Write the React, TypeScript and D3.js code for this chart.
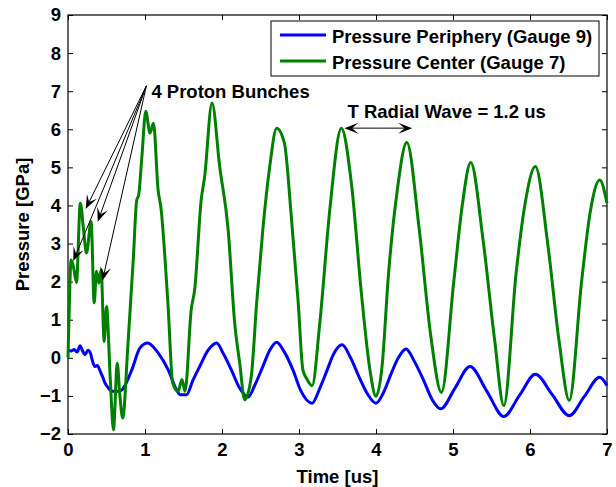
import React, { useEffect, useRef } from "react";
import * as d3 from "d3";

const WIDTH = 616;
const HEIGHT = 487;
const MARGIN = { top: 15, right: 9, bottom: 53, left: 68 };
const FONT = "'Liberation Sans', Arial, Helvetica, sans-serif";
const FONT_SIZE = 18.5;

const X_TICKS = [0, 1, 2, 3, 4, 5, 6, 7];
const Y_TICKS = [-2, -1, 0, 1, 2, 3, 4, 5, 6, 7, 8, 9];

const SERIES_NAMES = ["Pressure Periphery (Gauge 9)", "Pressure Center (Gauge 7)"];
const SERIES_COLORS = ["#0000ff", "#008000"];

// [time us, pressure GPa]
const peripheryData: [number, number][] = [
  [0, 0.21], [0.04, 0.18], [0.08, 0.22], [0.12, 0.15], [0.156, 0.32], [0.19, 0.18],
  [0.22, 0.08], [0.26, 0.2], [0.29, 0.13], [0.32, -0.1], [0.35, -0.23], [0.38, -0.2],
  [0.42, -0.36], [0.45, -0.5], [0.48, -0.66], [0.52, -0.78], [0.57, -0.88], [0.65, -0.88],
  [0.7, -0.84], [0.77, -0.6], [0.83, -0.31], [0.935, 0.26], [1.035, 0.39], [1.17, 0.13],
  [1.3, -0.31], [1.41, -0.84], [1.46, -0.97], [1.54, -0.97], [1.62, -0.6], [1.71, -0.23],
  [1.82, 0.2], [1.93, 0.39], [2.02, 0.1], [2.12, -0.31], [2.23, -0.8], [2.34, -1.03],
  [2.43, -0.7], [2.53, -0.23], [2.62, 0.2], [2.71, 0.41], [2.81, 0.15], [2.92, -0.31],
  [3.02, -0.85], [3.17, -1.19], [3.27, -0.8], [3.36, -0.35], [3.45, 0.1], [3.56, 0.34],
  [3.67, 0.0], [3.78, -0.5], [3.89, -0.95], [4.0, -1.19], [4.1, -0.9], [4.2, -0.4],
  [4.29, 0.0], [4.39, 0.23], [4.5, -0.1], [4.62, -0.6], [4.73, -1.1], [4.84, -1.34],
  [5.03, -0.78], [5.22, -0.23], [5.44, -0.88], [5.66, -1.54], [5.865, -0.98], [6.07, -0.43],
  [6.29, -0.97], [6.51, -1.52], [6.71, -1.0], [6.905, -0.51], [7.0, -0.73],
];

const centerData: [number, number][] = [
  [0, 0.0], [0.02, 1.6], [0.04, 2.57], [0.07, 2.4], [0.11, 1.98], [0.16, 4.06],
  [0.2, 3.4], [0.24, 2.75], [0.3, 3.58], [0.34, 1.44], [0.37, 2.27], [0.4, 1.96],
  [0.43, 2.31], [0.47, 0.43], [0.5, 1.35], [0.55, -0.6], [0.59, -1.89], [0.64, -0.14],
  [0.67, -0.9], [0.71, -1.58], [0.78, 0.4], [0.85, 2.66], [0.89, 4.1], [0.92, 4.3],
  [0.96, 5.29], [1.01, 6.47], [1.065, 5.9], [1.11, 6.16], [1.17, 4.41], [1.21, 3.89],
  [1.26, 2.6], [1.3, 1.35], [1.36, -0.66], [1.43, -0.88], [1.48, -0.57], [1.52, -0.88],
  [1.6, 1.26], [1.645, 1.79], [1.73, 4.15], [1.775, 4.76], [1.87, 6.69], [1.97, 5.02],
  [2.08, 3.36], [2.165, 0.91], [2.23, -0.14], [2.295, -1.1], [2.38, -0.49], [2.45, 1.44],
  [2.53, 3.36], [2.62, 5.02], [2.71, 6.03], [2.81, 5.64], [2.9, 3.71], [2.99, 1.44],
  [3.05, -0.31], [3.1, -0.55], [3.17, -0.73], [3.27, 0.91], [3.4, 3.89], [3.55, 6.03],
  [3.68, 4.59], [3.81, 1.7], [3.92, -0.3], [4.0, -1.01], [4.08, -0.2], [4.16, 2.14],
  [4.27, 4.3], [4.4, 5.65], [4.56, 3.4], [4.71, 0.6], [4.85, -0.91], [5.01, 2.0],
  [5.12, 4.0], [5.23, 5.13], [5.39, 3.1], [5.54, 0.48], [5.66, -1.26], [5.82, 2.23],
  [5.93, 3.97], [6.07, 5.02], [6.23, 3.0], [6.38, 0.4], [6.51, -1.12], [6.67, 2.0],
  [6.78, 3.8], [6.905, 4.67], [7.0, 4.06],
];

// annotations, in data units
const BUNCH_LABEL = "4 Proton Bunches";
const BUNCH_LABEL_POS: [number, number] = [1.083, 6.83];
const BUNCH_ORIGIN: [number, number] = [1.018, 7.14];
const BUNCH_TIPS: [number, number][] = [[0.23, 3.91], [0.386, 3.57], [0.068, 2.54], [0.447, 2.02]];

const WAVE_LABEL = "T Radial Wave = 1.2 us";
const WAVE_LABEL_POS: [number, number] = [3.63, 6.29];
const WAVE_ARROW: [number, number][] = [[3.59, 6.03], [4.47, 6.03]];

const arrowHead = (x1: number, y1: number, x2: number, y2: number, len = 14, wid = 11) => {
  const a = Math.atan2(y2 - y1, x2 - x1);
  const c = Math.cos(a);
  const s = Math.sin(a);
  const bx = x2 - len * c;
  const by = y2 - len * s;
  const nx = x2 - len * 0.55 * c;
  const ny = y2 - len * 0.55 * s;
  return {
    path: `M${x2},${y2}L${bx - (wid / 2) * s},${by + (wid / 2) * c}L${nx},${ny}L${bx + (wid / 2) * s},${by - (wid / 2) * c}Z`,
    nx,
    ny,
  };
};

const PressureChart = () => {
  const svgRef = useRef<SVGSVGElement>(null);

  useEffect(() => {
    const svg = d3.select(svgRef.current);
    svg.selectAll("*").remove();

    const w = WIDTH - MARGIN.left - MARGIN.right;
    const h = HEIGHT - MARGIN.top - MARGIN.bottom;

    const x = d3.scaleLinear().domain([0, 7]).range([0, w]);
    const y = d3.scaleLinear().domain([-2, 9]).range([h, 0]);

    const g = svg
      .append("g")
      .attr("transform", `translate(${MARGIN.left},${MARGIN.top})`)
      .style("font-family", FONT)
      .style("font-weight", "bold");

    // Axes, ticks pointing inwards (box style)
    const styleAxis = (sel: any) => {
      sel.select(".domain").remove();
      sel.selectAll("line").attr("stroke", "#000");
      sel.selectAll("text").style("font-size", `${FONT_SIZE}px`).attr("fill", "#000").style("font-family", FONT);
    };

    g.append("g")
      .attr("transform", `translate(0,${h})`)
      .call(d3.axisBottom(x).tickValues(X_TICKS).tickSizeInner(-5).tickSizeOuter(0).tickPadding(9).tickFormat(d3.format("d")))
      .call(styleAxis);
    g.append("g")
      .call(d3.axisLeft(y).tickValues(Y_TICKS).tickSizeInner(-5).tickSizeOuter(0).tickPadding(7).tickFormat(d3.format("d")))
      .call(styleAxis);
    g.append("g")
      .call(d3.axisTop(x).tickValues(X_TICKS).tickSizeInner(-5).tickSizeOuter(0).tickFormat(() => ""))
      .call(styleAxis);
    g.append("g")
      .attr("transform", `translate(${w},0)`)
      .call(d3.axisRight(y).tickValues(Y_TICKS).tickSizeInner(-5).tickSizeOuter(0).tickFormat(() => ""))
      .call(styleAxis);

    g.append("rect")
      .attr("width", w)
      .attr("height", h)
      .attr("fill", "none")
      .attr("stroke", "#000")
      .attr("stroke-width", 1.2);

    // Axis labels
    g.append("text")
      .attr("x", w / 2)
      .attr("y", h + 49)
      .attr("text-anchor", "middle")
      .style("font-size", `${FONT_SIZE}px`)
      .text("Time [us]");
    g.append("text")
      .attr("transform", "rotate(-90)")
      .attr("x", -h / 2)
      .attr("y", -39)
      .attr("text-anchor", "middle")
      .style("font-size", `${FONT_SIZE}px`)
      .text("Pressure [GPa]");

    // Lines
    const line = d3
      .line<[number, number]>()
      .x((d) => x(d[0]))
      .y((d) => y(d[1]))
      .curve(d3.curveMonotoneX);

    [peripheryData, centerData].forEach((data, i) => {
      g.append("path")
        .datum(data)
        .attr("fill", "none")
        .attr("stroke", SERIES_COLORS[i])
        .attr("stroke-width", 3)
        .attr("stroke-linejoin", "round")
        .attr("d", line);
    });

    // Annotations
    const drawArrow = (from: [number, number], to: [number, number]) => {
      const x1 = x(from[0]);
      const y1 = y(from[1]);
      const x2 = x(to[0]);
      const y2 = y(to[1]);
      const head = arrowHead(x1, y1, x2, y2);
      g.append("line")
        .attr("x1", x1)
        .attr("y1", y1)
        .attr("x2", head.nx)
        .attr("y2", head.ny)
        .attr("stroke", "#000")
        .attr("stroke-width", 1);
      g.append("path").attr("d", head.path).attr("fill", "#000");
    };

    BUNCH_TIPS.forEach((tip) => drawArrow(BUNCH_ORIGIN, tip));

    g.append("text")
      .attr("x", x(BUNCH_LABEL_POS[0]))
      .attr("y", y(BUNCH_LABEL_POS[1]))
      .style("font-size", `${FONT_SIZE}px`)
      .text(BUNCH_LABEL);

    // double arrow
    const mid: [number, number] = [
      (WAVE_ARROW[0][0] + WAVE_ARROW[1][0]) / 2,
      (WAVE_ARROW[0][1] + WAVE_ARROW[1][1]) / 2,
    ];
    drawArrow(mid, WAVE_ARROW[0]);
    drawArrow(mid, WAVE_ARROW[1]);

    g.append("text")
      .attr("x", x(WAVE_LABEL_POS[0]))
      .attr("y", y(WAVE_LABEL_POS[1]))
      .style("font-size", `${FONT_SIZE}px`)
      .text(WAVE_LABEL);

    // Legend
    const legend = svg
      .append("g")
      .attr("transform", "translate(271,21)")
      .style("font-family", FONT)
      .style("font-weight", "bold");
    legend
      .append("rect")
      .attr("width", 328)
      .attr("height", 55)
      .attr("fill", "#fff")
      .attr("stroke", "#000")
      .attr("stroke-width", 1);
    SERIES_NAMES.forEach((name, i) => {
      const ly = 14 + i * 26;
      legend
        .append("line")
        .attr("x1", 9)
        .attr("x2", 55)
        .attr("y1", ly)
        .attr("y2", ly)
        .attr("stroke", SERIES_COLORS[i])
        .attr("stroke-width", 3);
      legend
        .append("text")
        .attr("x", 61)
        .attr("y", ly + 8)
        .style("font-size", `${FONT_SIZE}px`)
        .text(name);
    });
  }, []);

  return (
    <svg
      ref={svgRef}
      width={WIDTH}
      height={HEIGHT}
      style={{ position: "absolute", left: 0, top: 0, background: "#fff" }}
    ></svg>
  );
};

export default function App() {
  return <PressureChart />;
}
